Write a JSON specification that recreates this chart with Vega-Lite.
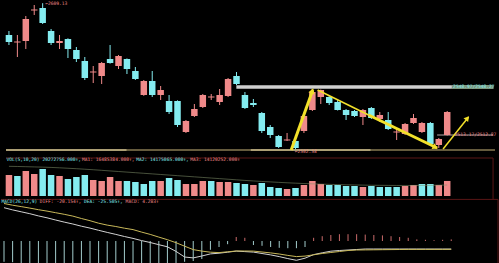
{
  "$schema": "https://vega.github.io/schema/vega-lite/v6.json",
  "background": "#000000",
  "padding": 0,
  "spacing": 0,
  "bounds": "flush",
  "config": {"view": {"stroke": null}, "text": {"font": "DejaVu Sans Mono"}},
  "datasets": {
    "k": [
      {"i":0,"o":2585.91,"h":2588.83,"l":2578.61,"c":2580.80,"d":"down","v":28.30,"vd":"up","ma":40.0,"df":83.25,"de":93.75,"m":-52},
      {"i":1,"o":2580.44,"h":2585.91,"l":2569.85,"c":2581.17,"d":"up","v":26.95,"vd":"down","ma":39.8,"df":77.75,"de":89.5,"m":-53},
      {"i":2,"o":2581.53,"h":2599.78,"l":2575.69,"c":2597.59,"d":"up","v":33.69,"vd":"up","ma":39.5,"df":73.0,"de":86.0,"m":-55},
      {"i":3,"o":2603.80,"h":2607.81,"l":2600.51,"c":2604.53,"d":"up","v":29.65,"vd":"up","ma":39.2,"df":68.25,"de":82.25,"m":-55},
      {"i":4,"o":2605.62,"h":2609.13,"l":2593.94,"c":2594.67,"d":"down","v":36.39,"vd":"down","ma":38.9,"df":62.75,"de":78.25,"m":-56},
      {"i":5,"o":2588.83,"h":2590.29,"l":2578.61,"c":2580.07,"d":"down","v":28.30,"vd":"down","ma":38.5,"df":58.0,"de":74.75,"m":-57},
      {"i":6,"o":2580.07,"h":2585.91,"l":2575.69,"c":2581.53,"d":"up","v":26.95,"vd":"up","ma":38.0,"df":52.5,"de":70.75,"m":-57},
      {"i":7,"o":2582.99,"h":2583.50,"l":2569.12,"c":2575.69,"d":"down","v":22.91,"vd":"down","ma":37.4,"df":47.25,"de":66.75,"m":-57},
      {"i":8,"o":2574.96,"h":2577.15,"l":2566.20,"c":2568.39,"d":"down","v":25.61,"vd":"down","ma":36.8,"df":42.5,"de":62.25,"m":-58},
      {"i":9,"o":2566.93,"h":2569.85,"l":2553.06,"c":2554.52,"d":"down","v":28.30,"vd":"down","ma":36.1,"df":37.0,"de":56.25,"m":-58},
      {"i":10,"o":2558.54,"h":2563.28,"l":2550.87,"c":2559.27,"d":"up","v":21.56,"vd":"up","ma":35.4,"df":32.25,"de":50.75,"m":-58},
      {"i":11,"o":2555.98,"h":2566.20,"l":2550.14,"c":2565.47,"d":"up","v":20.22,"vd":"up","ma":34.6,"df":26.75,"de":44.5,"m":-58},
      {"i":12,"o":2568.39,"h":2578.61,"l":2565.00,"c":2565.47,"d":"down","v":25.61,"vd":"up","ma":33.8,"df":21.5,"de":39.75,"m":-57},
      {"i":13,"o":2563.28,"h":2571.31,"l":2561.09,"c":2570.58,"d":"up","v":20.22,"vd":"up","ma":33.0,"df":16.5,"de":36.25,"m":-57},
      {"i":14,"o":2568.39,"h":2568.80,"l":2557.44,"c":2561.09,"d":"down","v":20.22,"vd":"down","ma":32.2,"df":11.25,"de":32.0,"m":-57},
      {"i":15,"o":2559.63,"h":2562.55,"l":2553.06,"c":2553.79,"d":"down","v":18.87,"vd":"down","ma":31.4,"df":6.5,"de":28.5,"m":-56},
      {"i":16,"o":2542.11,"h":2553.06,"l":2541.50,"c":2552.33,"d":"up","v":16.17,"vd":"down","ma":30.6,"df":1.0,"de":22.25,"m":-56},
      {"i":17,"o":2552.33,"h":2559.63,"l":2540.65,"c":2542.11,"d":"down","v":20.22,"vd":"down","ma":29.8,"df":-3.75,"de":16.5,"m":-55},
      {"i":18,"o":2542.11,"h":2548.68,"l":2538.46,"c":2545.76,"d":"up","v":20.22,"vd":"up","ma":29.0,"df":-9.25,"de":9.75,"m":-55},
      {"i":19,"o":2537.73,"h":2542.11,"l":2528.24,"c":2529.70,"d":"down","v":24.26,"vd":"down","ma":28.2,"df":-14.5,"de":3.25,"m":-55},
      {"i":20,"o":2537.73,"h":2538.20,"l":2518.75,"c":2520.21,"d":"down","v":21.56,"vd":"down","ma":27.4,"df":-26.0,"de":-4.25,"m":-55},
      {"i":21,"o":2515.10,"h":2523.86,"l":2514.37,"c":2523.13,"d":"up","v":16.17,"vd":"up","ma":26.6,"df":-40.0,"de":-13.0,"m":-52},
      {"i":22,"o":2526.78,"h":2535.54,"l":2526.05,"c":2531.89,"d":"up","v":16.17,"vd":"up","ma":25.8,"df":-42.25,"de":-21.5,"m":-50},
      {"i":23,"o":2533.35,"h":2542.84,"l":2532.62,"c":2542.11,"d":"up","v":20.22,"vd":"up","ma":25.0,"df":-37.5,"de":-25.25,"m":-45},
      {"i":24,"o":2540.29,"h":2542.84,"l":2538.46,"c":2541.02,"d":"up","v":20.22,"vd":"down","ma":24.2,"df":-32.25,"de":-28.0,"m":-22},
      {"i":25,"o":2537.00,"h":2546.49,"l":2534.81,"c":2542.11,"d":"up","v":18.87,"vd":"up","ma":23.4,"df":-30.5,"de":-29.0,"m":-15},
      {"i":26,"o":2541.38,"h":2554.52,"l":2540.65,"c":2553.79,"d":"up","v":18.87,"vd":"up","ma":22.6,"df":-28.0,"de":-27.0,"m":-8},
      {"i":27,"o":2555.98,"h":2558.90,"l":2549.41,"c":2550.14,"d":"down","v":17.52,"vd":"down","ma":21.8,"df":-25.25,"de":-25.0,"m":10},
      {"i":28,"o":2542.11,"h":2544.30,"l":2531.89,"c":2532.62,"d":"down","v":16.17,"vd":"down","ma":21.0,"df":-26.5,"de":-25.0,"m":8},
      {"i":29,"o":2536.27,"h":2539.19,"l":2533.35,"c":2534.81,"d":"down","v":14.82,"vd":"up","ma":20.3,"df":-27.75,"de":-25.25,"m":-10},
      {"i":30,"o":2528.97,"h":2529.70,"l":2514.37,"c":2515.83,"d":"down","v":17.52,"vd":"down","ma":19.6,"df":-31.25,"de":-27.5,"m":-12},
      {"i":31,"o":2518.75,"h":2520.21,"l":2510.72,"c":2512.91,"d":"down","v":12.13,"vd":"down","ma":19.0,"df":-34.75,"de":-29.75,"m":-15},
      {"i":32,"o":2512.18,"h":2512.91,"l":2503.42,"c":2504.15,"d":"down","v":10.78,"vd":"down","ma":18.4,"df":-39.0,"de":-32.5,"m":-17},
      {"i":33,"o":2508.90,"h":2514.37,"l":2508.53,"c":2509.63,"d":"up","v":9.43,"vd":"up","ma":17.8,"df":-44.0,"de":-36.0,"m":-18},
      {"i":34,"o":2508.53,"h":2509.99,"l":2502.58,"c":2503.42,"d":"down","v":10.78,"vd":"down","ma":17.3,"df":-48.25,"de":-39.0,"m":-18},
      {"i":35,"o":2515.83,"h":2528.24,"l":2514.37,"c":2526.78,"d":"up","v":14.82,"vd":"up","ma":16.8,"df":-43.0,"de":-37.75,"m":-15},
      {"i":36,"o":2531.16,"h":2546.49,"l":2530.43,"c":2544.30,"d":"up","v":20.22,"vd":"up","ma":16.4,"df":-34.0,"de":-34.5,"m":8},
      {"i":37,"o":2540.65,"h":2546.10,"l":2535.54,"c":2545.76,"d":"up","v":16.17,"vd":"up","ma":16.0,"df":-29.5,"de":-31.25,"m":12},
      {"i":38,"o":2540.65,"h":2542.11,"l":2534.81,"c":2536.27,"d":"down","v":14.82,"vd":"down","ma":15.7,"df":-25.5,"de":-28.75,"m":15},
      {"i":39,"o":2537.00,"h":2538.46,"l":2530.80,"c":2531.16,"d":"down","v":14.82,"vd":"down","ma":15.4,"df":-23.75,"de":-26.25,"m":17},
      {"i":40,"o":2531.16,"h":2531.89,"l":2523.86,"c":2527.51,"d":"down","v":13.48,"vd":"down","ma":15.1,"df":-22.5,"de":-23.75,"m":17},
      {"i":41,"o":2530.43,"h":2531.16,"l":2526.05,"c":2526.78,"d":"down","v":13.48,"vd":"down","ma":14.9,"df":-21.25,"de":-22.5,"m":17},
      {"i":42,"o":2526.05,"h":2531.89,"l":2520.21,"c":2531.16,"d":"up","v":12.13,"vd":"up","ma":14.7,"df":-20.0,"de":-22.25,"m":16},
      {"i":43,"o":2532.62,"h":2533.35,"l":2524.59,"c":2525.32,"d":"down","v":13.48,"vd":"down","ma":14.5,"df":-20.0,"de":-22.0,"m":15},
      {"i":44,"o":2524.59,"h":2529.70,"l":2522.40,"c":2527.51,"d":"up","v":12.13,"vd":"down","ma":14.4,"df":-20.0,"de":-21.75,"m":14},
      {"i":45,"o":2523.86,"h":2529.70,"l":2516.56,"c":2517.29,"d":"down","v":12.13,"vd":"down","ma":14.3,"df":-20.0,"de":-21.5,"m":12},
      {"i":46,"o":2514.74,"h":2517.29,"l":2509.26,"c":2515.47,"d":"up","v":12.13,"vd":"down","ma":14.2,"df":-20.0,"de":-21.25,"m":10},
      {"i":47,"o":2513.64,"h":2521.67,"l":2512.91,"c":2520.94,"d":"up","v":13.48,"vd":"up","ma":14.2,"df":-20.0,"de":-21.0,"m":8},
      {"i":48,"o":2521.67,"h":2528.24,"l":2520.94,"c":2525.32,"d":"up","v":14.82,"vd":"up","ma":14.2,"df":-20.0,"de":-21.0,"m":4},
      {"i":49,"o":2515.10,"h":2522.40,"l":2514.37,"c":2521.67,"d":"up","v":16.17,"vd":"down","ma":14.3,"df":-20.0,"de":-21.0,"m":3},
      {"i":50,"o":2521.67,"h":2522.40,"l":2505.61,"c":2506.34,"d":"down","v":16.17,"vd":"down","ma":14.4,"df":-20.1,"de":-20.9,"m":2},
      {"i":51,"o":2505.61,"h":2510.72,"l":2503.42,"c":2509.99,"d":"up","v":14.82,"vd":"up","ma":14.6,"df":-20.1,"de":-20.9,"m":3},
      {"i":52,"o":2512.91,"h":2530.43,"l":2512.55,"c":2529.70,"d":"up","v":20.27,"vd":"up","ma":14.8,"df":-20.15,"de":-20.8,"m":4}
    ]
  },
  "vconcat": [
    {
      "width": 499,
      "height": 150,
      "encoding": {
        "x": {"field": "i", "type": "quantitative", "scale": {"domain": [-0.35, 57.67], "nice": false, "zero": false}, "axis": null}
      },
      "layer": [
        {
          "data": {"values": [{"i": -0.35, "i2": 57.67, "p": 2502.0}]},
          "mark": {"type": "rule", "color": "#877a52", "strokeWidth": 1.5},
          "encoding": {"x2": {"field": "i2"}, "y": {"field": "p", "type": "quantitative", "scale": {"domain": [2500.5, 2610], "nice": false, "zero": false}, "axis": null}}
        },
        {
          "data": {"values": [{"i": -0.35, "i2": 13.95, "p": 2502.0}, {"i": 28.7, "i2": 42.9, "p": 2502.0}]},
          "mark": {"type": "rule", "color": "#c4b487", "strokeWidth": 1.5},
          "encoding": {"x2": {"field": "i2"}, "y": {"field": "p", "type": "quantitative", "scale": {"domain": [2500.5, 2610], "nice": false, "zero": false}, "axis": null}}
        },
        {
          "data": {"values": [{"i": 26.98, "i2": 52.56, "p": 2548.0}]},
          "mark": {"type": "rule", "color": "#cfcfcf", "strokeWidth": 3.5},
          "encoding": {"x2": {"field": "i2"}, "y": {"field": "p", "type": "quantitative", "scale": {"domain": [2500.5, 2610], "nice": false, "zero": false}, "axis": null}}
        },
        {
          "data": {"values": [{"i": 52.56, "i2": 57.5, "p": 2548.0}]},
          "mark": {"type": "rule", "color": "#7d977d", "strokeWidth": 4},
          "encoding": {"x2": {"field": "i2"}, "y": {"field": "p", "type": "quantitative", "scale": {"domain": [2500.5, 2610], "nice": false, "zero": false}, "axis": null}}
        },
        {
          "data": {"values": [{"i": 50.8, "i2": 57.44, "p": 2512.9}]},
          "mark": {"type": "rule", "color": "#7a7070", "strokeWidth": 1.5},
          "encoding": {"x2": {"field": "i2"}, "y": {"field": "p", "type": "quantitative", "scale": {"domain": [2500.5, 2610], "nice": false, "zero": false}, "axis": null}}
        },
        {
          "data": {"name": "k"},
          "mark": {"type": "rule", "strokeWidth": 1},
          "encoding": {
            "y": {"field": "l", "type": "quantitative", "scale": {"domain": [2500.5, 2610], "nice": false, "zero": false}, "axis": null},
            "y2": {"field": "h"},
            "color": {"field": "d", "type": "nominal", "scale": {"domain": ["up", "down"], "range": ["#f08a8a", "#84ecf0"]}, "legend": null}
          }
        },
        {
          "data": {"name": "k"},
          "mark": {"type": "bar", "size": 6.5},
          "encoding": {
            "y": {"field": "o", "type": "quantitative", "scale": {"domain": [2500.5, 2610], "nice": false, "zero": false}, "axis": null},
            "y2": {"field": "c"},
            "color": {"field": "d", "type": "nominal", "scale": {"domain": ["up", "down"], "range": ["#f08a8a", "#84ecf0"]}, "legend": null}
          }
        },
        {
          "data": {"values": [
            {"a": "thick", "i": 33.49, "p": 2501.96, "i2": 36.05, "p2": 2545.76},
            {"a": "thin", "i": 36.63, "p": 2545.76, "i2": 42.67, "p2": 2527.51},
            {"a": "thick", "i": 42.67, "p": 2527.51, "i2": 50.81, "p2": 2503.42}
          ]},
          "transform": [{"filter": "datum.a == 'thick'"}],
          "mark": {"type": "rule", "color": "#f2e02a", "strokeWidth": 3},
          "encoding": {"x2": {"field": "i2"}, "y": {"field": "p", "type": "quantitative", "scale": {"domain": [2500.5, 2610], "nice": false, "zero": false}, "axis": null}, "y2": {"field": "p2"}}
        },
        {
          "data": {"values": [
            {"a": "thin", "i": 36.63, "p": 2545.76, "i2": 42.67, "p2": 2527.51},
            {"a": "thin", "i": 51.51, "p": 2502.69, "i2": 54.53, "p2": 2526.05}
          ]},
          "mark": {"type": "rule", "color": "#f2e02a", "strokeWidth": 1.5},
          "encoding": {"x2": {"field": "i2"}, "y": {"field": "p", "type": "quantitative", "scale": {"domain": [2500.5, 2610], "nice": false, "zero": false}, "axis": null}, "y2": {"field": "p2"}}
        },
        {
          "data": {"values": [{"i": 36.0, "p": 2545.2}]},
          "mark": {"type": "point", "shape": "triangle-up", "filled": true, "size": 40, "angle": 21, "color": "#f2e02a", "opacity": 1},
          "encoding": {"y": {"field": "p", "type": "quantitative", "scale": {"domain": [2500.5, 2610], "nice": false, "zero": false}, "axis": null}}
        },
        {
          "data": {"values": [{"i": 50.6, "p": 2503.9}]},
          "mark": {"type": "point", "shape": "triangle-up", "filled": true, "size": 40, "angle": 116, "color": "#f2e02a", "opacity": 1},
          "encoding": {"y": {"field": "p", "type": "quantitative", "scale": {"domain": [2500.5, 2610], "nice": false, "zero": false}, "axis": null}}
        },
        {
          "data": {"values": [{"i": 54.4, "p": 2525.2}]},
          "mark": {"type": "point", "shape": "triangle-up", "filled": true, "size": 35, "angle": 39, "color": "#f2e02a", "opacity": 1},
          "encoding": {"y": {"field": "p", "type": "quantitative", "scale": {"domain": [2500.5, 2610], "nice": false, "zero": false}, "axis": null}}
        },
        {
          "data": {"values": [
            {"i": 4.3, "p": 2608.6, "t": "←2609.13", "s": "hl"},
            {"i": 33.9, "p": 2500.2, "t": "←2502.58", "s": "hl"},
            {"i": 52.7, "p": 2547.95, "t": "2548.97/2548.27", "s": "g"},
            {"i": 52.9, "p": 2512.9, "t": "2513.17/2512.87", "s": "lo"}
          ]},
          "mark": {"type": "text", "align": "left", "baseline": "middle", "fontSize": 4.6},
          "encoding": {
            "y": {"field": "p", "type": "quantitative", "scale": {"domain": [2500.5, 2610], "nice": false, "zero": false}, "axis": null},
            "text": {"field": "t"},
            "color": {"field": "s", "type": "nominal", "scale": {"domain": ["hl", "g", "lo"], "range": ["#bdbdbd", "#2f6a2f", "#9a9090"]}, "legend": null}
          }
        }
      ]
    },
    {
      "width": 499,
      "height": 47,
      "encoding": {
        "x": {"field": "i", "type": "quantitative", "scale": {"domain": [-0.35, 57.67], "nice": false, "zero": false}, "axis": null}
      },
      "layer": [
        {
          "data": {"values": [{"i": -0.35, "i2": 57.44, "v": 51.2}]},
          "mark": {"type": "rule", "color": "#5a1616", "strokeWidth": 1},
          "encoding": {"x2": {"field": "i2"}, "y": {"field": "v", "type": "quantitative", "scale": {"domain": [-4.04, 59.3], "nice": false, "zero": false}, "axis": null}}
        },
        {
          "data": {"values": [{"i": 57.44, "v": 51.2, "v2": -4.04}]},
          "mark": {"type": "rule", "color": "#5a1616", "strokeWidth": 1},
          "encoding": {"y": {"field": "v", "type": "quantitative", "scale": {"domain": [-4.04, 59.3], "nice": false, "zero": false}, "axis": null}, "y2": {"field": "v2"}}
        },
        {
          "data": {"name": "k"},
          "mark": {"type": "bar", "size": 6.5},
          "encoding": {
            "y": {"field": "v", "type": "quantitative", "scale": {"domain": [-4.04, 59.3], "nice": false, "zero": false}, "axis": null},
            "y2": {"datum": 0},
            "color": {"field": "vd", "type": "nominal", "scale": {"domain": ["up", "down"], "range": ["#f08a8a", "#84ecf0"]}, "legend": null}
          }
        },
        {
          "data": {"name": "k"},
          "mark": {"type": "line", "color": "#7f8f6a", "strokeWidth": 0.8, "opacity": 0.7},
          "encoding": {"y": {"field": "ma", "type": "quantitative", "scale": {"domain": [-4.04, 59.3], "nice": false, "zero": false}, "axis": null}}
        },
        {
          "data": {"values": [
            {"i": -0.3, "v": 48.5, "t": "VOL(5,10,20) 20272756.000↑,", "s": "VOL"},
            {"i": 8.66, "v": 48.5, "t": "MA1: 16485384.000↑,", "s": "MA1"},
            {"i": 15.1, "v": 48.5, "t": "MA2: 14175065.000↑,", "s": "MA2"},
            {"i": 21.5, "v": 48.5, "t": "MA3: 14120252.000↑", "s": "MA3"}
          ]},
          "mark": {"type": "text", "align": "left", "baseline": "middle", "fontSize": 4.6},
          "encoding": {
            "y": {"field": "v", "type": "quantitative", "scale": {"domain": [-4.04, 59.3], "nice": false, "zero": false}, "axis": null},
            "text": {"field": "t"},
            "color": {"field": "s", "type": "nominal", "scale": {"domain": ["VOL", "MA1", "MA2", "MA3"], "range": ["#cfcfcf", "#e6e6c8", "#c056c0", "#4fbf4f"]}, "legend": null}
          }
        }
      ]
    },
    {
      "width": 499,
      "height": 66,
      "encoding": {
        "x": {"field": "i", "type": "quantitative", "scale": {"domain": [-0.35, 57.67], "nice": false, "zero": false}, "axis": null}
      },
      "layer": [
        {
          "data": {"values": [{"i": -0.35, "i2": 57.44, "v": 104}]},
          "mark": {"type": "rule", "color": "#5a1616", "strokeWidth": 1},
          "encoding": {"x2": {"field": "i2"}, "y": {"field": "v", "type": "quantitative", "scale": {"domain": [-60, 105], "nice": false, "zero": false}, "axis": null}}
        },
        {
          "data": {"values": [{"i": 57.44, "v": 104, "v2": -60}]},
          "mark": {"type": "rule", "color": "#5a1616", "strokeWidth": 1},
          "encoding": {"y": {"field": "v", "type": "quantitative", "scale": {"domain": [-60, 105], "nice": false, "zero": false}, "axis": null}, "y2": {"field": "v2"}}
        },
        {
          "data": {"name": "k"},
          "mark": {"type": "rule", "strokeWidth": 1},
          "encoding": {
            "y": {"field": "m", "type": "quantitative", "scale": {"domain": [-60, 105], "nice": false, "zero": false}, "axis": null},
            "y2": {"datum": 0},
            "color": {"condition": {"test": "datum.m > 0", "value": "#c86a6a"}, "value": "#a3cccc"}
          }
        },
        {
          "data": {"name": "k"},
          "mark": {"type": "line", "color": "#d2d2d2", "strokeWidth": 1},
          "encoding": {"y": {"field": "df", "type": "quantitative", "scale": {"domain": [-60, 105], "nice": false, "zero": false}, "axis": null}}
        },
        {
          "data": {"name": "k"},
          "mark": {"type": "line", "color": "#c8b85a", "strokeWidth": 1},
          "encoding": {"y": {"field": "de", "type": "quantitative", "scale": {"domain": [-60, 105], "nice": false, "zero": false}, "axis": null}}
        },
        {
          "data": {"values": [
            {"i": -0.3, "v": 97.5, "t": "MACD(26,12,9)", "s": "M"},
            {"i": 4.16, "v": 97.5, "t": "DIFF: -20.154↑,", "s": "DIFF"},
            {"i": 9.3, "v": 97.5, "t": "DEA: -25.505↑,", "s": "DEA"},
            {"i": 14.14, "v": 97.5, "t": "MACD: 4.283↑", "s": "MACD"}
          ]},
          "mark": {"type": "text", "align": "left", "baseline": "middle", "fontSize": 4.6},
          "encoding": {
            "y": {"field": "v", "type": "quantitative", "scale": {"domain": [-60, 105], "nice": false, "zero": false}, "axis": null},
            "text": {"field": "t"},
            "color": {"field": "s", "type": "nominal", "scale": {"domain": ["M", "DIFF", "DEA", "MACD"], "range": ["#bdbdbd", "#e8e8e8", "#e0d860", "#c056c0"]}, "legend": null}
          }
        }
      ]
    }
  ]
}
